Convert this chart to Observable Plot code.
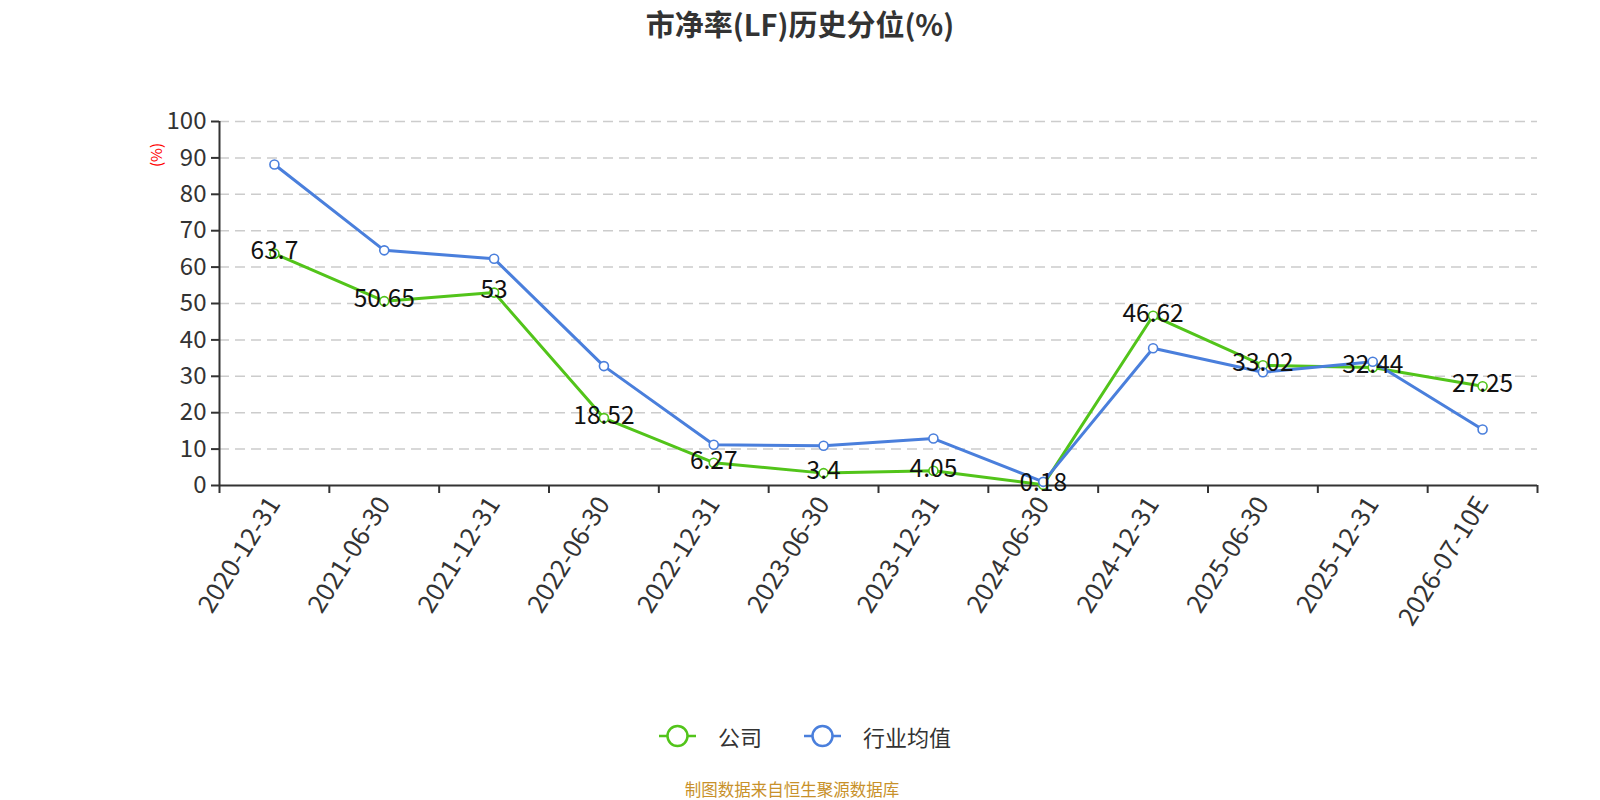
<!DOCTYPE html>
<html>
<head>
<meta charset="utf-8">
<script src="https://cdn.jsdelivr.net/npm/d3@7"></script>
<script src="https://cdn.jsdelivr.net/npm/@observablehq/plot@0.6"></script>
<style>
  body { margin: 0; background: #fff; font-family: "Noto Sans CJK SC", "Noto Sans", sans-serif; }
  #wrap { position: relative; width: 1600px; height: 800px; overflow: hidden; }
  #title { position: absolute; top: 2px; left: 500px; width: 600px; text-align: center; font-size: 29px; line-height: 42px; font-weight: bold; color: #333; }
  #chart { position: absolute; top: 0; left: 0; }
  #ylab { position: absolute; left: 141px; top: 143px; width: 30px; height: 24px; color: red; font-size: 15px; transform: rotate(-90deg); transform-origin: center; text-align: center; line-height: 24px; }
  #legend { position: absolute; top: 719px; left: 0; width: 1600px; height: 34px; font-size: 22px; color: #333; }
  .li { position: absolute; top: 0; display: flex; align-items: center; height: 34px; }
  .li svg { margin-right: 22px; }
  #caption { position: absolute; top: 780px; left: 592px; width: 400px; text-align: center; font-size: 16.5px; line-height: 18px; color: #c8912a; }
</style>
</head>
<body>
<div id="wrap">
  <div id="title">市净率(LF)历史分位(%)</div>
  <div id="chart"></div>
  <div id="ylab">(%)</div>
  <div id="legend"></div>
  <div id="caption">制图数据来自恒生聚源数据库</div>
</div>
<script>
const categories = ["2020-12-31","2021-06-30","2021-12-31","2022-06-30","2022-12-31","2023-06-30","2023-12-31","2024-06-30","2024-12-31","2025-06-30","2025-12-31","2026-07-10E"];
const company = [63.7, 50.65, 53, 18.52, 6.27, 3.4, 4.05, 0.18, 46.62, 33.02, 32.44, 27.25];
const industry = [88.2, 64.6, 62.3, 32.8, 11.2, 10.9, 12.9, 1.0, 37.7, 31.1, 34.0, 15.4];
const yTicks = [0, 10, 20, 30, 40, 50, 60, 70, 80, 90, 100];
const seriesNames = ["公司", "行业均值"];
const colors = ["#52c41a", "#4a7fdc"];

const n = categories.length;
const rows = categories.map((c, i) => ({ i, c, company: company[i], industry: industry[i] }));
const xDomain = [-0.5, n - 0.5];
const boundaries = d3.range(n + 1).map(k => k - 0.5);

const chart = Plot.plot({
  width: 1600,
  height: 660,
  marginTop: 121,
  marginLeft: 219,
  marginRight: 63,
  marginBottom: 175,
  x: { type: "linear", domain: xDomain },
  y: { domain: [0, 100] },
  style: { fontFamily: "'Noto Sans CJK SC', 'Noto Sans', sans-serif", fontSize: "24px", color: "#333", background: "transparent" },
  marks: [
    Plot.gridY(yTicks.filter(d => d > 0), { stroke: "#ccc", strokeOpacity: 1, strokeDasharray: "10,6", strokeWidth: 1.5 }),
    Plot.axisY(yTicks, { tickSize: 8, tickPadding: 5, fontSize: 24, label: null, stroke: "#333", strokeWidth: 2 }),
    Plot.ruleX([xDomain[0]], { stroke: "#333", strokeWidth: 2 }),
    Plot.ruleY([0], { stroke: "#333", strokeWidth: 2 }),
    Plot.axisX(boundaries, { tickSize: 8, tickFormat: () => "", label: null, stroke: "#333", strokeWidth: 2 }),
    Plot.axisX(d3.range(n), { tickSize: 0, tickRotate: -58, tickPadding: 14, tickFormat: i => categories[i], fontSize: 25.5, label: null }),
    Plot.line(rows, { x: "i", y: "company", stroke: colors[0], strokeWidth: 3 }),
    Plot.dot(rows, { x: "i", y: "company", r: 4.5, fill: "white", stroke: colors[0], strokeWidth: 1.6 }),
    Plot.line(rows, { x: "i", y: "industry", stroke: colors[1], strokeWidth: 3 }),
    Plot.dot(rows, { x: "i", y: "industry", r: 4.5, fill: "white", stroke: colors[1], strokeWidth: 1.6 }),
    Plot.text(rows, { x: "i", y: "company", text: d => String(d.company), fontSize: 24.5, fill: "#111", dy: -2 })
  ]
});
document.getElementById("chart").appendChild(chart);

const legend = document.getElementById("legend");
const legendLeft = [659, 804];
seriesNames.forEach((name, k) => {
  const item = document.createElement("div");
  item.className = "li";
  item.style.left = legendLeft[k] + "px";
  item.innerHTML = `<svg width="37" height="26"><line x1="0" y1="13" x2="37" y2="13" stroke="${colors[k]}" stroke-width="2.5"/><circle cx="18.5" cy="13" r="10" fill="white" stroke="${colors[k]}" stroke-width="2.5"/></svg><span>${name}</span>`;
  legend.appendChild(item);
});
</script>
</body>
</html>
